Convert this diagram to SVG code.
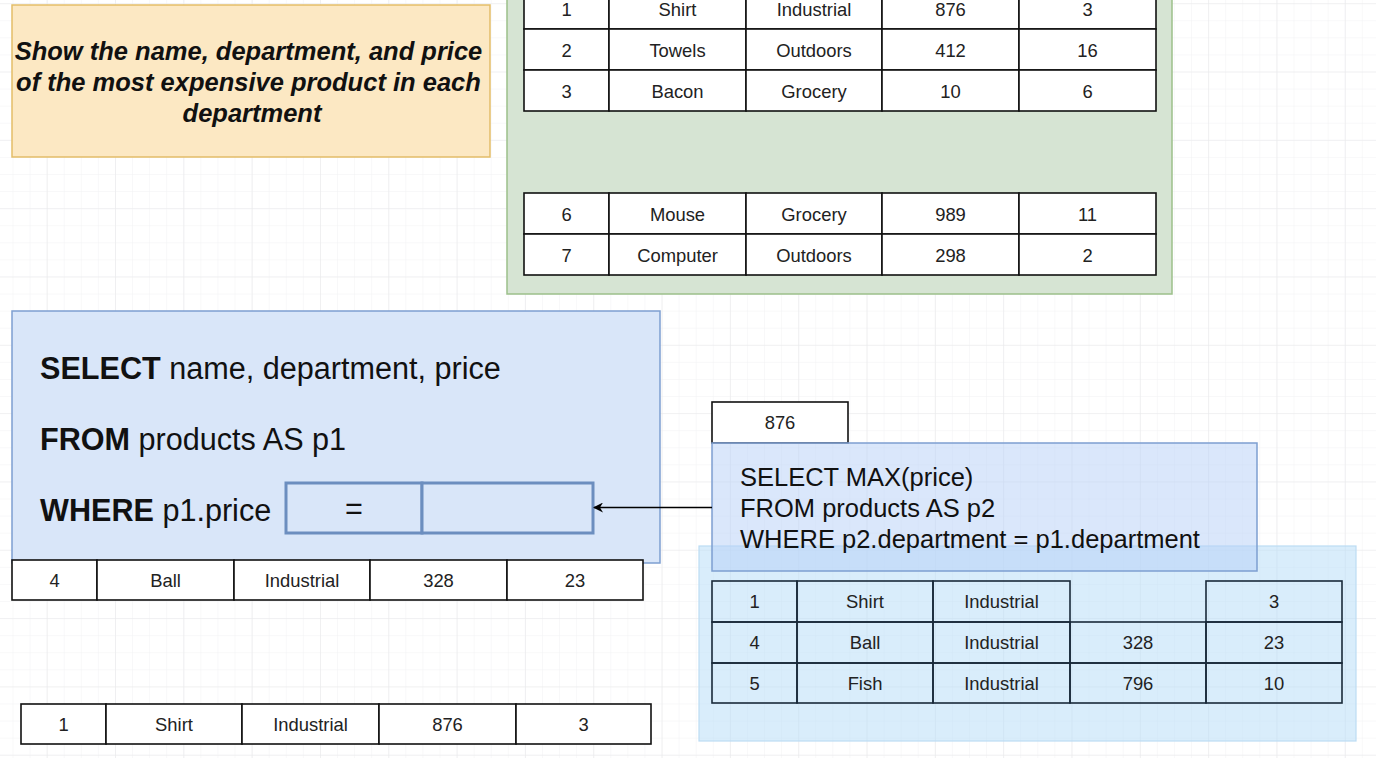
<svg xmlns="http://www.w3.org/2000/svg" width="1376" height="758" viewBox="0 0 1376 758">
<defs>
<pattern id="minor" x="12.5" y="3.2" width="17.08" height="17.08" patternUnits="userSpaceOnUse">
<path d="M0 0V17.08M0 0H17.08" fill="none" stroke="#f1f2f3" stroke-width="1"/>
</pattern>
<pattern id="major" x="46.7" y="3.2" width="68.32" height="68.32" patternUnits="userSpaceOnUse">
<path d="M0 0V68.32M0 0H68.32" fill="none" stroke="#e9eaeb" stroke-width="1.2"/>
</pattern>
<marker id="arr" viewBox="0 0 10 10" refX="9" refY="5" markerWidth="10" markerHeight="10" markerUnits="userSpaceOnUse" orient="auto">
<path d="M0 0L10 5L0 10L3 5Z" fill="#000"/>
</marker>
</defs>
<style>
.cell{fill:#fff;stroke:#111;stroke-width:1.6}
.cellt{fill:none;stroke:#1a2a3a;stroke-width:1.6}
.t{font-family:"Liberation Sans",Arial,sans-serif;font-size:18.4px;fill:#222;text-anchor:middle}
.sql{font-family:"Liberation Sans",Arial,sans-serif;font-size:30.6px;fill:#111}
.sq2{font-family:"Liberation Sans",Arial,sans-serif;font-size:25.5px;fill:#111}
.b{font-weight:bold}
</style>
<rect width="1376" height="758" fill="#fff"/>
<rect width="1376" height="758" fill="url(#minor)"/>
<rect width="1376" height="758" fill="url(#major)"/>

<g id="question">
<rect x="12" y="5" width="478" height="152" fill="#fce8c3" stroke="#e3bd68" stroke-width="1.5"/>
<text font-family="'Liberation Sans',Arial,sans-serif" font-size="25.5" font-weight="bold" font-style="italic" fill="#111" text-anchor="middle">
<tspan x="252" y="60">Show the name, department, and price</tspan>
<tspan x="252" y="91">of the most expensive product in each</tspan>
<tspan x="252" y="122">department</tspan>
</text>
</g>

<g id="products-table">
<rect x="507" y="-20" width="665" height="314" fill="#d6e4d3" stroke="#9cc08a" stroke-width="1.5"/>
<g id="row-1">
<rect class="cell" x="524" y="-12" width="85" height="41"/><rect class="cell" x="609" y="-12" width="137" height="41"/><rect class="cell" x="746" y="-12" width="136" height="41"/><rect class="cell" x="882" y="-12" width="137" height="41"/><rect class="cell" x="1019" y="-12" width="137" height="41"/>
<text class="t" x="566.5" y="16">1</text><text class="t" x="677.5" y="16">Shirt</text><text class="t" x="814" y="16">Industrial</text><text class="t" x="950.5" y="16">876</text><text class="t" x="1087.5" y="16">3</text>
</g>
<g id="row-2">
<rect class="cell" x="524" y="29" width="85" height="41"/><rect class="cell" x="609" y="29" width="137" height="41"/><rect class="cell" x="746" y="29" width="136" height="41"/><rect class="cell" x="882" y="29" width="137" height="41"/><rect class="cell" x="1019" y="29" width="137" height="41"/>
<text class="t" x="566.5" y="56.5">2</text><text class="t" x="677.5" y="56.5">Towels</text><text class="t" x="814" y="56.5">Outdoors</text><text class="t" x="950.5" y="56.5">412</text><text class="t" x="1087.5" y="56.5">16</text>
</g>
<g id="row-3">
<rect class="cell" x="524" y="70" width="85" height="41"/><rect class="cell" x="609" y="70" width="137" height="41"/><rect class="cell" x="746" y="70" width="136" height="41"/><rect class="cell" x="882" y="70" width="137" height="41"/><rect class="cell" x="1019" y="70" width="137" height="41"/>
<text class="t" x="566.5" y="97.5">3</text><text class="t" x="677.5" y="97.5">Bacon</text><text class="t" x="814" y="97.5">Grocery</text><text class="t" x="950.5" y="97.5">10</text><text class="t" x="1087.5" y="97.5">6</text>
</g>
<g id="row-6">
<rect class="cell" x="524" y="193" width="85" height="41"/><rect class="cell" x="609" y="193" width="137" height="41"/><rect class="cell" x="746" y="193" width="136" height="41"/><rect class="cell" x="882" y="193" width="137" height="41"/><rect class="cell" x="1019" y="193" width="137" height="41"/>
<text class="t" x="566.5" y="220.5">6</text><text class="t" x="677.5" y="220.5">Mouse</text><text class="t" x="814" y="220.5">Grocery</text><text class="t" x="950.5" y="220.5">989</text><text class="t" x="1087.5" y="220.5">11</text>
</g>
<g id="row-7">
<rect class="cell" x="524" y="234" width="85" height="41"/><rect class="cell" x="609" y="234" width="137" height="41"/><rect class="cell" x="746" y="234" width="136" height="41"/><rect class="cell" x="882" y="234" width="137" height="41"/><rect class="cell" x="1019" y="234" width="137" height="41"/>
<text class="t" x="566.5" y="261.5">7</text><text class="t" x="677.5" y="261.5">Computer</text><text class="t" x="814" y="261.5">Outdoors</text><text class="t" x="950.5" y="261.5">298</text><text class="t" x="1087.5" y="261.5">2</text>
</g>
</g>

<g id="outer-query">
<rect x="12" y="311" width="648" height="252" fill="#d9e6f9" stroke="#7d9fd1" stroke-width="1.5"/>
<text class="sql" x="40" y="379"><tspan class="b">SELECT</tspan> name, department, price</text>
<text class="sql" x="40" y="450"><tspan class="b">FROM</tspan> products AS p1</text>
<text class="sql" x="40" y="521"><tspan class="b">WHERE</tspan> p1.price</text>
<g id="where-slot">
<rect x="286" y="483" width="136" height="50" fill="#d9e6f9" stroke="#6c8ebf" stroke-width="3"/>
<rect x="422" y="483" width="171" height="50" fill="#d9e6f9" stroke="#6c8ebf" stroke-width="3"/>
<text class="sql" x="354" y="519" text-anchor="middle">=</text>
</g>
</g>

<g id="ball-row">
<rect class="cell" x="12" y="560" width="85" height="40"/><rect class="cell" x="97" y="560" width="137" height="40"/><rect class="cell" x="234" y="560" width="136" height="40"/><rect class="cell" x="370" y="560" width="137" height="40"/><rect class="cell" x="507" y="560" width="136" height="40"/>
<text class="t" x="54.5" y="587">4</text><text class="t" x="165.5" y="587">Ball</text><text class="t" x="302" y="587">Industrial</text><text class="t" x="438.5" y="587">328</text><text class="t" x="575" y="587">23</text>
</g>

<g id="shirt-row">
<rect class="cell" x="21" y="704" width="85" height="40"/><rect class="cell" x="106" y="704" width="136" height="40"/><rect class="cell" x="242" y="704" width="137" height="40"/><rect class="cell" x="379" y="704" width="137" height="40"/><rect class="cell" x="516" y="704" width="135" height="40"/>
<text class="t" x="63.5" y="731">1</text><text class="t" x="174" y="731">Shirt</text><text class="t" x="310.5" y="731">Industrial</text><text class="t" x="447.5" y="731">876</text><text class="t" x="583.5" y="731">3</text>
</g>

<g id="industrial-group">
<rect x="699" y="546" width="657" height="195" fill="#b3dbf7" fill-opacity="0.5" stroke="#bcdcf3" stroke-width="1.2"/>
<g id="ind-row-1">
<rect class="cellt" x="712" y="581" width="85" height="41"/><rect class="cellt" x="797" y="581" width="136" height="41"/><rect class="cellt" x="933" y="581" width="137" height="41"/><rect class="cellt" x="1206" y="581" width="136" height="41"/>
<text class="t" x="754.5" y="608">1</text><text class="t" x="865" y="608">Shirt</text><text class="t" x="1001.5" y="608">Industrial</text><text class="t" x="1274" y="608">3</text>
</g>
<g id="ind-row-4">
<rect class="cellt" x="712" y="622" width="85" height="41"/><rect class="cellt" x="797" y="622" width="136" height="41"/><rect class="cellt" x="933" y="622" width="137" height="41"/><rect class="cellt" x="1070" y="622" width="136" height="41"/><rect class="cellt" x="1206" y="622" width="136" height="41"/>
<text class="t" x="754.5" y="649">4</text><text class="t" x="865" y="649">Ball</text><text class="t" x="1001.5" y="649">Industrial</text><text class="t" x="1138" y="649">328</text><text class="t" x="1274" y="649">23</text>
</g>
<g id="ind-row-5">
<rect class="cellt" x="712" y="663" width="85" height="40"/><rect class="cellt" x="797" y="663" width="136" height="40"/><rect class="cellt" x="933" y="663" width="137" height="40"/><rect class="cellt" x="1070" y="663" width="136" height="40"/><rect class="cellt" x="1206" y="663" width="136" height="40"/>
<text class="t" x="754.5" y="690">5</text><text class="t" x="865" y="690">Fish</text><text class="t" x="1001.5" y="690">Industrial</text><text class="t" x="1138" y="690">796</text><text class="t" x="1274" y="690">10</text>
</g>
</g>

<g id="result-876">
<rect x="712" y="402" width="136" height="41" fill="#fff" stroke="#111" stroke-width="1.6"/>
<text class="t" x="780" y="429">876</text>
</g>

<g id="inner-query">
<rect x="712" y="443" width="545" height="128" fill="#b5cff7" fill-opacity="0.5" stroke="#7d9fd1" stroke-width="1.5"/>
<text class="sq2" x="740" y="486">SELECT MAX(price)</text>
<text class="sq2" x="740" y="517">FROM products AS p2</text>
<text class="sq2" x="740" y="548">WHERE p2.department = p1.department</text>
</g>

<g id="connectors">
<line x1="712" y1="507.5" x2="594" y2="507.5" stroke="#000" stroke-width="1.3" marker-end="url(#arr)"/>
</g>
</svg>
